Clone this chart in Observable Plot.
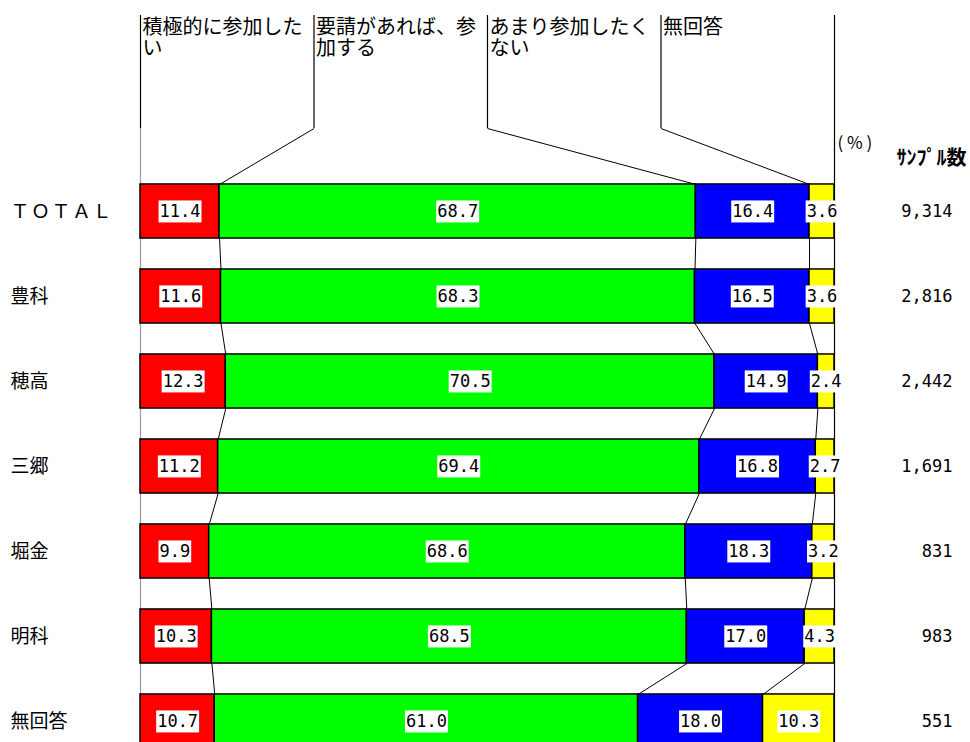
<!DOCTYPE html>
<html>
<head>
<meta charset="utf-8">
<script src="https://cdn.jsdelivr.net/npm/d3@7"></script>
<script src="https://cdn.jsdelivr.net/npm/@observablehq/plot@0.6"></script>
<style>
  html, body { margin: 0; padding: 0; background: #fff; }
  svg { display: block; }
</style>
</head>
<body>
<div id="chart"></div>
<script>
// ---- data ----
const categories = ["積極的に参加したい", "要請があれば、参加する", "あまり参加したくない", "無回答"];
const legendLabels = ["積極的に参加した\nい", "要請があれば、参\n加する", "あまり参加したく\nない", "無回答"];
const colors = ["#ff0000", "#00ff00", "#0000ff", "#ffff00"];
const rows = ["ＴＯＴＡＬ", "豊科", "穂高", "三郷", "堀金", "明科", "無回答"];
const positive = [11.4, 11.6, 12.3, 11.2, 9.9, 10.3, 10.7];
const ifAsked  = [68.7, 68.3, 70.5, 69.4, 68.6, 68.5, 61.0];
const reluctant = [16.4, 16.5, 14.9, 16.8, 18.3, 17.0, 18.0];
const noAnswer = [3.6, 3.6, 2.4, 2.7, 3.2, 4.3, 10.3];
const samples = [9314, 2816, 2442, 1691, 831, 983, 551];

// ---- layout (row units: row i centred at i) ----
const half = 0.318;          // half bar thickness
const legendTop = -2.306;    // top of legend leader lines
const legendBend = -0.976;   // where the leader lines bend
const yMin = -211 / 85, yMax = (742 - 211) / 85;

// ---- derived table ----
const series = [positive, ifAsked, reluctant, noAnswer];
const table = [];
const bounds = []; // bounds[i][k] = cumulative fraction at boundary k (1..3)
rows.forEach((name, i) => {
  const vals = series.map(s => s[i]);
  const total = d3.sum(vals);
  let cum = 0;
  const b = [0];
  vals.forEach((v, k) => {
    table.push({row: i, name, cat: categories[k], value: v, x1: cum / total, x2: (cum + v) / total});
    cum += v;
    b.push(cum / total);
  });
  bounds.push(b);
});
const connectors = [];
for (let i = 0; i < rows.length - 1; i++) {
  for (let k = 1; k <= 3; k++) {
    connectors.push({x1: bounds[i][k], y1: i + half, x2: bounds[i + 1][k], y2: i + 1 - half});
  }
}
const legendCols = categories.map((c, k) => ({cat: c, label: legendLabels[k], x: k / 4}));
const legendLinks = [1, 2, 3].map(k => ({x1: k / 4, y1: legendBend, x2: bounds[0][k], y2: -half}));
const rowData = rows.map((name, i) => ({name, row: i, n: samples[i]}));

const jp = "'Noto Sans CJK JP', 'Noto Sans', sans-serif";
const mono = "'DejaVu Sans Mono', 'Liberation Mono', monospace";

const plot = Plot.plot({
  width: 970,
  height: 742,
  marginLeft: 140,
  marginRight: 136,
  marginTop: 0,
  marginBottom: 0,
  x: {domain: [0, 1], axis: null},
  y: {domain: [yMin, yMax], reverse: true, axis: null},
  color: {domain: categories, range: colors},
  style: {background: "#fff"},
  marks: [
    // left frame line
    Plot.ruleX([0], {y1: legendTop, y2: legendBend, stroke: "#000", strokeWidth: 1.2}),
    Plot.ruleX([0], {y1: legendBend, y2: yMax, stroke: "#999", strokeWidth: 1.2}),
    // right frame line
    Plot.ruleX([1], {y1: legendTop, y2: yMax, stroke: "#000", strokeWidth: 1.2}),
    // legend leader lines
    Plot.ruleX([0.25, 0.5, 0.75], {y1: legendTop, y2: legendBend, stroke: "#000", strokeWidth: 1.2}),
    Plot.link(legendLinks, {x1: "x1", y1: "y1", x2: "x2", y2: "y2", stroke: "#000", strokeWidth: 1}),
    // connectors between bars
    Plot.link(connectors, {x1: "x1", y1: "y1", x2: "x2", y2: "y2", stroke: "#000", strokeWidth: 1}),
    // bars
    Plot.rectX(table, {x1: "x1", x2: "x2", y1: d => d.row - half, y2: d => d.row + half,
      fill: "cat", stroke: "#000", strokeWidth: 1.5}),
    // value labels
    Plot.text(table, {x: d => (d.x1 + d.x2) / 2, y: "row", text: d => d.value.toFixed(1),
      fill: "#000", fontSize: 17, fontFamily: mono, ariaLabel: () => "val"}),
    // legend labels
    Plot.text(legendCols, {x: "x", y: legendTop, text: "label", textAnchor: "start", lineAnchor: "top",
      dx: 2, dy: 3, fontSize: 20, lineHeight: 1.08, fontFamily: jp, fill: "#000"}),
    // row labels
    Plot.text(rowData, {frameAnchor: "left", y: "row", text: "name", textAnchor: "start", dx: -130,
      fontSize: 19, fontFamily: jp, fill: "#000", ariaLabel: d => "row" + d.row}),
    // sample sizes
    Plot.text(rowData, {frameAnchor: "right", y: "row", text: d => d3.format(",")(d.n), textAnchor: "end", dx: 118,
      fontSize: 17, fontFamily: mono, fill: "#000"}),
    // unit
    Plot.text(["( % )"], {frameAnchor: "right", y: -0.8, text: d => d, textAnchor: "start", dx: 3,
      fontSize: 17, fontFamily: jp, fill: "#000"}),
    Plot.text(["ｻﾝﾌﾟﾙ数"], {frameAnchor: "right", y: -0.62, text: d => d, textAnchor: "start", dx: 62,
      fontSize: 20, fontWeight: "bold", fontFamily: jp, fill: "#000"})
  ]
});

document.getElementById("chart").appendChild(plot);

// wider tracking for the TOTAL label
d3.select(plot).selectAll('text[aria-label="row0"]').style("letter-spacing", "1.5px");

// white boxes behind the value labels
d3.select(plot).selectAll('text[aria-label="val"]').each(function () {
  const b = this.getBBox();
  const r = document.createElementNS("http://www.w3.org/2000/svg", "rect");
  r.setAttribute("x", b.x - 1);
  r.setAttribute("y", b.y - 0.5);
  r.setAttribute("width", b.width + 2);
  r.setAttribute("height", b.height + 2);
  r.setAttribute("fill", "#fff");
  const t = this.getAttribute("transform");
  if (t) r.setAttribute("transform", t);
  this.parentNode.insertBefore(r, this);
});
</script>
</body>
</html>
